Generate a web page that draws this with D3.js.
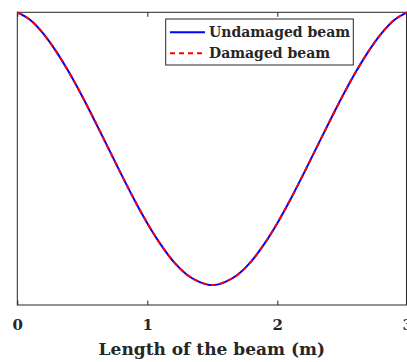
<!DOCTYPE html>
<html>
<head>
<meta charset="utf-8">
<script src="https://cdn.jsdelivr.net/npm/d3@7"></script>
<style>
  html, body { margin: 0; padding: 0; background: #fff; }
  svg { display: block; }
  text { font-family: "DejaVu Serif", serif; font-weight: bold; fill: #262626; }
</style>
</head>
<body>
<div id="chart"></div>
<script>
// Positions along the beam (m)
const xValues = [0,0.1,0.2,0.3,0.4,0.5,0.6,0.7,0.8,0.9,1.0,1.1,1.2,1.3,1.4,1.5,
                 1.6,1.7,1.8,1.9,2.0,2.1,2.2,2.3,2.4,2.5,2.6,2.7,2.8,2.9,3.0];
// Normalised mode-shape deflection
const undamaged = [0,-0.028,-0.078,-0.144,-0.222,-0.309,-0.402,-0.498,-0.594,-0.687,-0.773,-0.849,-0.913,-0.960,-0.988,-1.0,
                   -0.988,-0.960,-0.913,-0.849,-0.773,-0.687,-0.594,-0.498,-0.402,-0.309,-0.222,-0.144,-0.078,-0.028,0];
const damaged   = [0,-0.028,-0.078,-0.144,-0.222,-0.309,-0.402,-0.498,-0.594,-0.687,-0.773,-0.849,-0.913,-0.960,-0.988,-1.0,
                   -0.988,-0.960,-0.913,-0.849,-0.773,-0.687,-0.594,-0.498,-0.402,-0.309,-0.222,-0.144,-0.078,-0.028,0];
const xTicks = [0,1,2,3];
const seriesNames = ["Undamaged beam","Damaged beam"];

(function () {
const W = 407, H = 362;
const mLeft = 17.3, mRight = 407.3, mTop = 12.3, mBottom = 305;

const svg = d3.select("#chart").append("svg").attr("width", W).attr("height", H);

const x = d3.scaleLinear().domain([0,3]).range([mLeft, mRight]);
const y = d3.scaleLinear().domain([-1.073, 0]).range([mBottom, mTop]);

// box
svg.append("rect")
  .attr("x", mLeft).attr("y", mTop)
  .attr("width", 406.5 - mLeft).attr("height", mBottom - mTop)
  .attr("fill", "none").attr("stroke", "#262626").attr("stroke-width", 1);

// bottom axis ticks (inward)
const xb = d3.axisBottom(x).tickValues(xTicks).tickSize(-4.5).tickFormat(d3.format("d"));
const gb = svg.append("g").attr("transform", `translate(0,${mBottom})`).call(xb);
gb.select(".domain").remove();
gb.selectAll(".tick line").attr("stroke", "#262626");
gb.selectAll(".tick text").attr("font-size", 15).attr("fill", "#262626")
  .attr("font-family", "DejaVu Serif").attr("font-weight", "bold")
  .attr("y", 25).attr("dy", 0);

const xt = d3.axisTop(x).tickValues(xTicks).tickSize(-4.5).tickFormat("");
const gt = svg.append("g").attr("transform", `translate(0,${mTop})`).call(xt);
gt.select(".domain").remove();
gt.selectAll(".tick line").attr("stroke", "#262626");

const data = xValues.map((v,i) => ({x: v, u: undamaged[i], d: damaged[i]}));

const lineU = d3.line().x(d => x(d.x)).y(d => y(d.u)).curve(d3.curveMonotoneX);
const lineD = d3.line().x(d => x(d.x)).y(d => y(d.d)).curve(d3.curveMonotoneX);

svg.append("path").datum(data).attr("d", lineU)
  .attr("fill", "none").attr("stroke", "#0000ff").attr("stroke-width", 2);
svg.append("path").datum(data).attr("d", lineD)
  .attr("fill", "none").attr("stroke", "#ff0000").attr("stroke-width", 2)
  .attr("stroke-dasharray", "5,4");

// axis title
svg.append("text").attr("x", (mLeft + mRight) / 2 - 0.5).attr("y", 355)
  .attr("text-anchor", "middle").attr("font-size", 17)
  .text("Length of the beam (m)");

// legend
const lg = svg.append("g");
lg.append("rect").attr("x", 165.7).attr("y", 19).attr("width", 187.6).attr("height", 46)
  .attr("fill", "#fff").attr("stroke", "#262626").attr("stroke-width", 1);
const rows = [{name: seriesNames[0], color: "#0000ff", dash: null, cy: 32.3},
              {name: seriesNames[1], color: "#ff0000", dash: "5,4", cy: 53.3}];
rows.forEach(r => {
  lg.append("line").attr("x1", 170).attr("x2", 205).attr("y1", r.cy).attr("y2", r.cy)
    .attr("stroke", r.color).attr("stroke-width", 2).attr("stroke-dasharray", r.dash);
  lg.append("text").attr("x", 209).attr("y", r.cy).attr("dy", "0.36em")
    .attr("font-size", 14).text(r.name);
});
})();
</script>
</body>
</html>
